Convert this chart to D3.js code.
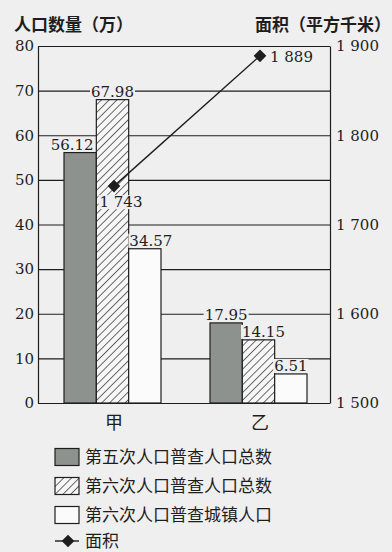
<!DOCTYPE html>
<html>
<head>
<meta charset="utf-8">
<script src="https://cdn.jsdelivr.net/npm/d3@7"></script>
<style>
  body { margin: 0; background: #efefef; }
  .num { font-family: 'DejaVu Serif', serif; font-size: 15px; fill: #1e1e1e; }
  .cjk { font-family: 'Noto Sans CJK SC', sans-serif; fill: #1e1e1e; }
</style>
</head>
<body>
<svg class="chart" width="392" height="552"></svg>
<script>
const regions = ['甲', '乙'];
const seriesNames = ['第五次人口普查人口总数', '第六次人口普查人口总数', '第六次人口普查城镇人口'];
const fifthTotal = [56.12, 17.95];
const sixthTotal = [67.98, 14.15];
const sixthUrban = [34.57, 6.51];
const areaValues = [1743, 1889];
const popTicks = [0, 10, 20, 30, 40, 50, 60, 70, 80];
const areaTicks = [1500, 1600, 1700, 1800, 1900];
const leftTitle = '人口数量（万）';
const rightTitle = '面积（平方千米）';
const lineName = '面积';

const bg = '#efefef';
const ink = '#1e1e1e';
const grey = '#8e928e';

const chart = d3.select('.chart');
const margin = { left: 38, top: 46, right: 62, bottom: 149 };
const chartWidth = +chart.attr('width') - margin.left - margin.right;
const chartHeight = +chart.attr('height') - margin.top - margin.bottom;

const loc = d3.formatLocale({ decimal: '.', thousands: ' ', grouping: [3], currency: ['', ''] });
const fmtArea = loc.format(',d');

// hatch pattern
const defs = chart.append('defs');
defs.append('pattern')
    .attr('id', 'hatch')
    .attr('patternUnits', 'userSpaceOnUse')
    .attr('width', 5.5)
    .attr('height', 5.5)
    .attr('patternTransform', 'rotate(45)')
  .call(p => {
      p.append('rect').attr('width', 5.5).attr('height', 5.5).attr('fill', '#f6f6f6');
      p.append('line').attr('x1', 0).attr('y1', 0).attr('x2', 0).attr('y2', 5.5)
          .attr('stroke', ink).attr('stroke-width', 1.3);
  });

const fills = [grey, 'url(#hatch)', '#fbfbfb'];
const data = regions.map((r, i) => ({
    region: r,
    values: [fifthTotal[i], sixthTotal[i], sixthUrban[i]],
    area: areaValues[i]
}));

const x = d3.scaleBand().domain(regions).range([0, chartWidth]);
const x1 = d3.scaleBand().domain(d3.range(seriesNames.length)).range([26, 123]);
const y = d3.scaleLinear().domain([0, 80]).range([chartHeight, 0]);
const y2 = d3.scaleLinear().domain([1500, 1900]).range([chartHeight, 0]);

const g = chart.append('g')
    .attr('transform', `translate(${margin.left} ${margin.top})`);

// left axis + grid
const yAxisG = g.append('g')
    .call(d3.axisLeft(y).tickValues(popTicks).tickSize(-chartWidth).tickSizeOuter(0).tickPadding(4));
yAxisG.selectAll('line').attr('stroke', ink).attr('stroke-width', 1.2);
yAxisG.select('.domain').attr('stroke', ink).attr('stroke-width', 1.2);
yAxisG.selectAll('text').attr('class', 'num');

// right axis
const y2AxisG = g.append('g')
    .attr('transform', `translate(${chartWidth} 0)`)
    .call(d3.axisRight(y2).tickValues(areaTicks).tickSize(0).tickPadding(6).tickFormat(fmtArea));
y2AxisG.select('.domain').attr('stroke', ink).attr('stroke-width', 1.2);
y2AxisG.selectAll('text').attr('class', 'num');

// bars
const groups = g.selectAll('.grp').data(data).join('g')
    .attr('transform', d => `translate(${x(d.region)} 0)`);

groups.selectAll('rect').data(d => d.values).join('rect')
    .attr('x', (v, i) => x1(i))
    .attr('y', v => y(v))
    .attr('width', x1.bandwidth())
    .attr('height', v => chartHeight - y(v))
    .attr('fill', (v, i) => fills[i])
    .attr('stroke', ink)
    .attr('stroke-width', 1.2);

// value labels with background
const labelShift = [[-8, 0, 6], [0, 5, 0]];
groups.each(function (d, gi) {
    const grp = d3.select(this);
    d.values.forEach((v, i) => {
        const t = grp.append('text')
            .attr('class', 'num')
            .attr('x', x1(i) + x1.bandwidth() / 2 + labelShift[gi][i])
            .attr('y', y(v) - 3)
            .attr('text-anchor', 'middle')
            .text(v.toFixed(2));
        const b = t.node().getBBox();
        grp.insert('rect', () => t.node())
            .attr('x', b.x - 1).attr('y', b.y + 2)
            .attr('width', b.width + 2).attr('height', b.height - 4)
            .attr('fill', bg);
    });
});

// category labels
g.append('g').selectAll('text').data(regions).join('text')
    .attr('class', 'cjk')
    .attr('x', d => x(d) + x.bandwidth() / 2 + 3)
    .attr('y', chartHeight + 26)
    .attr('text-anchor', 'middle')
    .attr('font-size', 18)
    .text(d => d);

// area line
const px = d => x(d.region) + x.bandwidth() / 2 + 3;
g.append('path')
    .attr('d', d3.line().x(px).y(d => y2(d.area))(data))
    .attr('fill', 'none')
    .attr('stroke', ink)
    .attr('stroke-width', 1.4);

const diamond = d3.symbol().type(d3.symbolSquare).size(80);
g.selectAll('.pt').data(data).join('path')
    .attr('d', diamond)
    .attr('transform', d => `translate(${px(d)} ${y2(d.area)}) rotate(45)`)
    .attr('fill', ink);

const areaLabelOffset = [[7, 21, 'middle'], [10, 6, 'start']];
data.forEach((d, i) => {
    const t = g.append('text')
        .attr('class', 'num')
        .attr('x', px(d) + areaLabelOffset[i][0])
        .attr('y', y2(d.area) + areaLabelOffset[i][1])
        .attr('text-anchor', areaLabelOffset[i][2])
        .text(fmtArea(d.area));
    const b = t.node().getBBox();
    g.insert('rect', () => t.node())
        .attr('x', b.x - 1).attr('y', b.y + 2)
        .attr('width', b.width + 2).attr('height', b.height - 4)
        .attr('fill', bg);
});

// axis titles
chart.append('text')
    .attr('class', 'cjk')
    .attr('x', 14)
    .attr('y', 31)
    .attr('font-size', 17)
    .attr('font-weight', 'bold')
    .text(leftTitle);

chart.append('text')
    .attr('class', 'cjk')
    .attr('x', 391)
    .attr('y', 31)
    .attr('font-size', 17)
    .attr('font-weight', 'bold')
    .attr('text-anchor', 'end')
    .text(rightTitle);

// legend
const legend = chart.append('g').attr('transform', 'translate(55 457)');
const rowH = 29;
seriesNames.forEach((name, i) => {
    const row = legend.append('g').attr('transform', `translate(0 ${i * rowH})`);
    row.append('rect')
        .attr('x', 0).attr('y', -8.5)
        .attr('width', 24).attr('height', 17)
        .attr('fill', fills[i])
        .attr('stroke', ink)
        .attr('stroke-width', 1.2);
    row.append('text')
        .attr('class', 'cjk')
        .attr('x', 30)
        .attr('y', 0)
        .attr('dy', '0.36em')
        .attr('font-size', 17)
        .text(name);
});
const lineRow = legend.append('g').attr('transform', `translate(0 ${3 * rowH - 3})`);
lineRow.append('line')
    .attr('x1', 0).attr('x2', 24)
    .attr('stroke', ink).attr('stroke-width', 1.4);
lineRow.append('path')
    .attr('d', diamond)
    .attr('transform', 'translate(13 0) rotate(45)')
    .attr('fill', ink);
lineRow.append('text')
    .attr('class', 'cjk')
    .attr('x', 30)
    .attr('dy', '0.36em')
    .attr('font-size', 17)
    .text(lineName);
</script>
</body>
</html>
